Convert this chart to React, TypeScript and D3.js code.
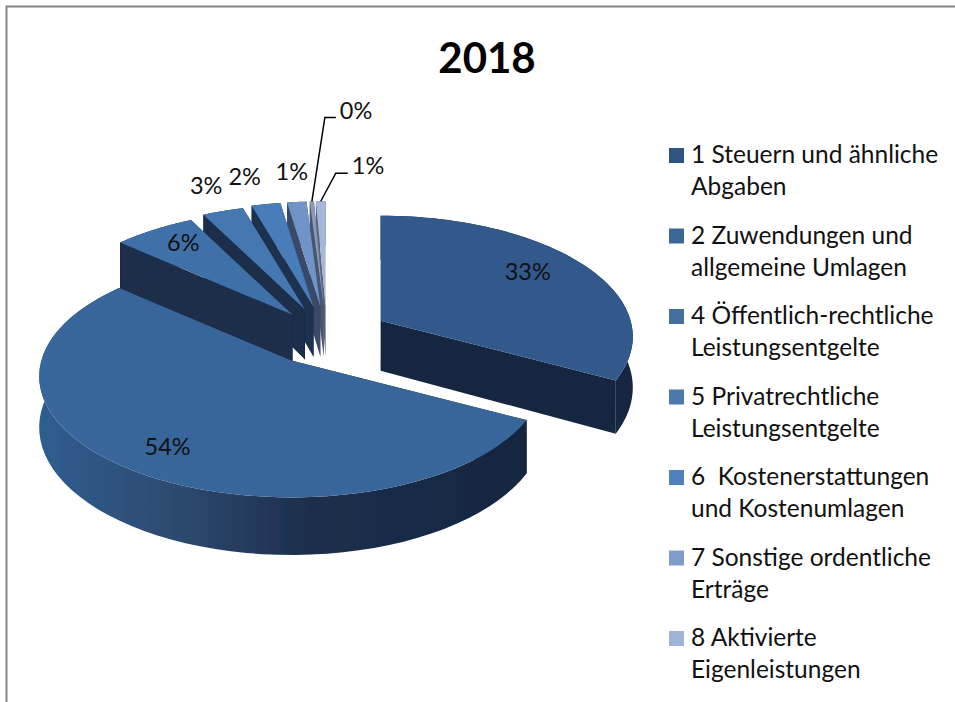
import React, { useRef, useEffect } from 'react';
import * as d3 from 'd3';

const title = '2018';

// share of each slice in percent
const sliceValues = [32.8, 53.7, 6.0, 3.0, 2.1, 1.4, 0.3, 0.7];
const sliceExplode = [0.25, 0.25, 0.225, 0.24, 0.25, 0.25, 0.25, 0.25];
const sliceTops = ['#30598c', '#39669b', '#3f70a8', '#4577b0', '#4a7dba', '#7093c8', '#8c99b5', '#a5b8da'];
const sliceWalls = ['#15263f', '#16273f', '#1a2d4a', '#1a2d4a', '#1d3150', '#3a4a68', '#4a5670', '#5a6680'];

const legendLabels = [
  ['1 Steuern und ähnliche', 'Abgaben'],
  ['2 Zuwendungen und', 'allgemeine Umlagen'],
  ['4 Öffentlich-rechtliche', 'Leistungsentgelte'],
  ['5 Privatrechtliche', 'Leistungsentgelte'],
  ['6  Kostenerstattungen', 'und Kostenumlagen'],
  ['7 Sonstige ordentliche', 'Erträge'],
  ['8 Aktivierte', 'Eigenleistungen'],
];
const legendColors = ['#2f5480', '#3c6696', '#44709f', '#4a79ae', '#4f81bd', '#7f9dc8', '#9fb4d5'];

// how far out each percent label sits, in pie radii (null = uses a leader line)
const labelRadius = [0.72, 0.8, 0.77, 1.25, 1.3, 1.3, null, null];
const labelNudge = [[0, -7], [1, 1], [0, -5], [1, -4], [-9, -1], [1, -3], [0, 0], [0, 0]];
const leaders = [null, null, null, null, null, null, [13, -84, 11], [15, -28, 12]];

const FONT = 'Lato, Carlito, Calibri, sans-serif';

export default function App() {
  const svgRef = useRef<SVGSVGElement>(null);

  useEffect(() => {
    const svg = d3.select(svgRef.current);
    const width = 955;
    const height = 702;
    svg.attr('viewBox', `0 0 ${width} ${height}`);
    svg.selectAll('*').remove();

    // frame, only top and left are in the crop
    svg.append('path')
      .attr('d', `M${width},6.5H6.5V${height}`)
      .attr('fill', 'none')
      .attr('stroke', '#868686')
      .attr('stroke-width', 2);

    svg.append('text')
      .attr('x', 487)
      .attr('y', 73)
      .attr('text-anchor', 'middle')
      .attr('font-family', FONT)
      .attr('font-weight', 700)
      .attr('font-size', 42)
      .text(title);

    const cx = 327;
    const cy = 336;
    const R = 250;
    const A = 118.9;
    const k = 0.132;
    const depth = 50;

    const project = (u: number, v: number, z = 0): [number, number] => {
      const den = 1 + k * v;
      return [R * u / den, -A * v / den + depth * z / den];
    };

    const defs = svg.append('defs');
    const rimGrad = defs.append('linearGradient').attr('id', 'rim54');
    [[0, '#2f5d90'], [0.12, '#2f5582'], [0.28, '#2d4a70'], [0.55, '#1c2f4c'], [1, '#14263f']].forEach(([o, c]) => {
      rimGrad.append('stop').attr('offset', o as number).attr('stop-color', c as string);
    });
    // the source picture is a soft scan, take the hard edge off
    defs.append('filter').attr('id', 'soft')
      .append('feGaussianBlur').attr('stdDeviation', 0.6);

    const arcs = d3.pie<number>().sort(null).value(d => d)(sliceValues);
    const line = d3.line();

    const slices = arcs.map((a, i) => {
      const mid = (a.startAngle + a.endAngle) / 2;
      const ox = cx + sliceExplode[i] * R * Math.sin(mid);
      const oy = cy - sliceExplode[i] * A * Math.cos(mid);
      const at = (r: number, t: number, z = 0): [number, number] => {
        const [x, y] = project(r * Math.sin(t), r * Math.cos(t), z);
        return [ox + x, oy + y];
      };
      const steps = d3.range(0, 61).map(s => a.startAngle + (a.endAngle - a.startAngle) * s / 60);
      return { i, mid, at, steps, a };
    });

    // back slices first, the two big ones last
    const order = [7, 6, 5, 4, 3, 2, 0, 1];
    const pie = svg.append('g').attr('filter', 'url(#soft)');
    order.forEach(i => {
      const { at, steps, a } = slices[i];
      const g = pie.append('g');
      const topRim = steps.map(t => at(1, t));
      const lowRim = steps.map(t => at(1, t, 1)).reverse();
      const wallA = [at(0, 0), at(1, a.startAngle), at(1, a.startAngle, 1), at(0, 0, 1)];
      const wallB = [at(0, 0), at(1, a.endAngle), at(1, a.endAngle, 1), at(0, 0, 1)];
      [wallA, wallB].sort((p, q) => d3.mean(p, d => d[1])! - d3.mean(q, d => d[1])!).forEach(w => {
        g.append('path').attr('d', line(w) + 'Z').attr('fill', sliceWalls[i]);
      });
      g.append('path')
        .attr('d', line([...topRim, ...lowRim]) + 'Z')
        .attr('fill', i === 1 ? 'url(#rim54)' : sliceWalls[i]);
      g.append('path')
        .attr('d', line([at(0, 0), ...topRim]) + 'Z')
        .attr('fill', sliceTops[i]);
    });

    const labels = svg.append('g')
      .attr('font-family', FONT)
      .attr('font-size', 23.5)
      .attr('fill', '#111');

    slices.forEach(({ i, mid, at }) => {
      const text = `${Math.round(sliceValues[i])}%`;
      const r = labelRadius[i];
      if (r !== null) {
        const [x, y] = at(r, mid);
        labels.append('text')
          .attr('x', x + labelNudge[i][0])
          .attr('y', y + labelNudge[i][1])
          .attr('dy', '0.35em')
          .attr('text-anchor', 'middle')
          .text(text);
      } else {
        const [dx, dy, run] = leaders[i]!;
        const [x, y] = at(1, mid);
        svg.append('path')
          .attr('d', line([[x, y], [x + dx, y + dy], [x + dx + run, y + dy]]))
          .attr('fill', 'none')
          .attr('stroke', '#000')
          .attr('stroke-width', 1.5);
        labels.append('text')
          .attr('x', x + dx + run + 4)
          .attr('y', y + dy - 7)
          .attr('dy', '0.35em')
          .text(text);
      }
    });

    const legendY = d3.scalePoint<number>()
      .domain(d3.range(legendLabels.length))
      .range([148, 631]);

    const legend = svg.append('g')
      .attr('font-family', FONT)
      .attr('font-size', 24.5)
      .attr('fill', '#111');

    legendLabels.forEach((rows, i) => {
      const y = legendY(i)!;
      legend.append('rect')
        .attr('x', 669)
        .attr('y', y)
        .attr('width', 15)
        .attr('height', 15)
        .attr('fill', legendColors[i]);
      rows.forEach((row, j) => {
        legend.append('text')
          .attr('xml:space', 'preserve')
          .attr('x', 691)
          .attr('y', y + 15 + j * 32)
          .text(row);
      });
    });
  }, []);

  return (
    <svg
      ref={svgRef}
      width={955}
      height={702}
      style={{ position: 'absolute', left: 0, top: 0, display: 'block' }}
    />
  );
}
